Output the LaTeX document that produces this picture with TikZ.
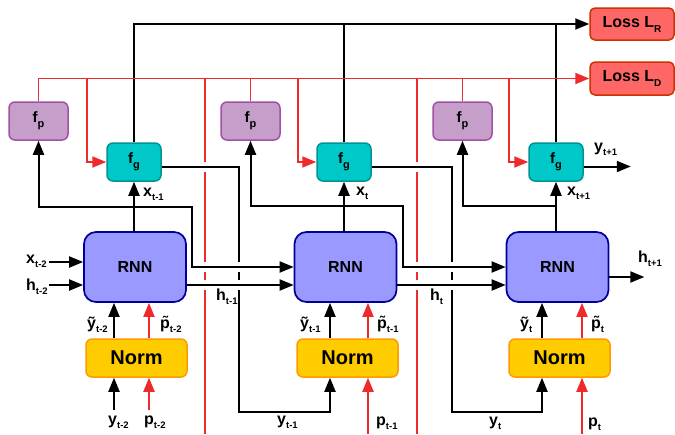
\documentclass[tikz,border=0pt]{standalone}
\usepackage{fontspec}
\setmainfont{Liberation Sans}
\usetikzlibrary{arrows.meta}

\definecolor{fpfill}{HTML}{C59FCA}
\definecolor{fpedge}{HTML}{A24FA6}
\definecolor{fgfill}{HTML}{00C8C8}
\definecolor{fgedge}{HTML}{009494}
\definecolor{rnnfill}{HTML}{9999FF}
\definecolor{rnnedge}{HTML}{000099}
\definecolor{normfill}{HTML}{FFCC00}
\definecolor{normedge}{HTML}{FF9900}
\definecolor{lossfill}{HTML}{FF6666}
\definecolor{lossedge}{HTML}{CC3300}
\definecolor{sigred}{HTML}{EE2A2A}

% lowered index used in the labels and boxes
\newcommand\idx[1]{\raisebox{-4.5pt}{\fontsize{9.5}{9.5}\selectfont #1}}
\newcommand\boxidx[1]{\raisebox{-5pt}{\fontsize{11}{11}\selectfont #1}}
% white break in a vertical line where a horizontal one passes over it
\newcommand\crossgap[2]{\fill[white] (#1-3,#2-5) rectangle (#1+3,#2+5);}

\begin{document}
\begin{tikzpicture}[x=1pt,y=-1pt,
  blk/.style={rounded corners=6pt, line width=1.5pt, inner sep=0pt,
              font=\bfseries\fontsize{15}{15}\selectfont},
  fpbox/.style={blk, fill=fpfill, draw=fpedge, minimum width=59pt, minimum height=38pt},
  fgbox/.style={blk, fill=fgfill, draw=fgedge, minimum width=54pt, minimum height=38pt},
  rnnbox/.style={blk, fill=rnnfill, draw=rnnedge, rounded corners=12pt, line width=1.7pt,
                 minimum width=102pt, minimum height=70pt, font=\bfseries\fontsize{16}{16}\selectfont},
  normbox/.style={blk, fill=normfill, draw=normedge, minimum width=101pt, minimum height=38pt,
                  font=\bfseries\fontsize{20}{20}\selectfont},
  lossbox/.style={blk, fill=lossfill, draw=lossedge, rounded corners=5pt,
                  minimum width=84pt, minimum height=32pt, font=\bfseries\fontsize{16}{16}\selectfont},
  lab/.style={anchor=base west, inner sep=0pt, font=\bfseries\fontsize{16}{16}\selectfont},
  wire/.style={line width=2pt, draw=black},
  rwire/.style={line width=1.9pt, draw=sigred},
  tip/.style={-{Triangle[length=14pt,width=11pt]}},
  ]
\useasboundingbox (0,0) rectangle (675,434);

% ---- blocks ----
\node[fpbox] (fp1) at (38.5,121) {f\boxidx{p}};
\node[fpbox] (fp2) at (250.5,121) {f\boxidx{p}};
\node[fpbox] (fp3) at (462.5,121) {f\boxidx{p}};
\node[fgbox] (fg1) at (134,162) {f\boxidx{g}};
\node[fgbox] (fg2) at (344,162) {f\boxidx{g}};
\node[fgbox] (fg3) at (556,162) {f\boxidx{g}};
\node[rnnbox] (rnn1) at (135,267) {RNN};
\node[rnnbox] (rnn2) at (345.5,267) {RNN};
\node[rnnbox] (rnn3) at (557.5,267) {RNN};
\node[normbox] (norm1) at (136.5,358) {Norm};
\node[normbox] (norm2) at (347.5,358) {Norm};
\node[normbox] (norm3) at (559.5,358) {Norm};
\node[lossbox] (lossR) at (632,24) {Loss L\raisebox{-5pt}{\fontsize{10}{10}\selectfont R}};
\node[lossbox, minimum height=33pt] (lossD) at (632,78.5) {Loss L\raisebox{-5pt}{\fontsize{10}{10}\selectfont D}};

% ---- reconstruction loss bus ----
\draw[wire,tip] (fg1.north) |- (lossR.west);
\draw[wire] (fg2.north) -- (fg2.north |- lossR.west);
\draw[wire] (fg3.north) -- (fg3.north |- lossR.west);

% ---- distribution loss bus (red) ----
\draw[rwire,tip] (fp1.north) |- (lossD.west);
\draw[rwire] (fp2.north) -- (fp2.north |- lossD.west);
\draw[rwire] (fp3.north) -- (fp3.north |- lossD.west);
\draw[rwire,tip] (87,0 |- lossD.west) |- (fg1.west);
\draw[rwire,tip] (298,0 |- lossD.west) |- (fg2.west);
\draw[rwire,tip] (509,0 |- lossD.west) |- (fg3.west);
\coordinate (sepA) at (205,434);
\coordinate (sepB) at (417,434);
\draw[rwire] (sepA |- lossD.west) -- (sepA);
\draw[rwire] (sepB |- lossD.west) -- (sepB);

% ---- predicted outputs y ----
\crossgap{205}{166.5}
\crossgap{417}{166.5}
\draw[wire,tip] ([yshift=-4.5pt]fg1.east) -| (239,412) -| (330,0 |- norm2.south);
\draw[wire,tip] ([yshift=-4.5pt]fg2.east) -| (452,412) -| (542,0 |- norm3.south);
\draw[wire,tip] ([yshift=-4.5pt]fg3.east) -- ++(47,0);

% ---- RNN outputs x, fed to f_g, f_p and the next RNN ----
\coordinate (j1) at (fg1.south |- 0,207);
\coordinate (j2) at (fg2.south |- 0,206);
\coordinate (j3) at (fg3.south |- 0,206);
\draw[wire,tip] (fg1.south |- rnn1.north) -- (fg1.south);
\draw[wire,tip] (fg2.south |- rnn2.north) -- (fg2.south);
\draw[wire,tip] (fg3.south |- rnn3.north) -- (fg3.south);
\draw[wire,tip] (j1) -| (fp1.south);
\draw[wire,tip] (j2) -| (fp2.south);
\draw[wire,tip] (j3) -| (fp3.south);

\foreach \xx in {205,239,417,452}{\crossgap{\xx}{267}\crossgap{\xx}{285}}
\draw[wire,tip] (j1) -| (192,0 |- rnn2.west) -- (rnn2.west);
\draw[wire,tip] (j2) -| (403,0 |- rnn3.west) -- (rnn3.west);

% ---- hidden state ----
\draw[wire,tip] ([yshift=-18pt]rnn1.east) -- ([yshift=-18pt]rnn2.west);
\draw[wire,tip] ([yshift=-18pt]rnn2.east) -- ([yshift=-18pt]rnn3.west);
\draw[wire,tip] ([yshift=-10pt]rnn3.east) -- ++(35,0);
\draw[wire,tip] ([xshift=-34pt,yshift=5pt]rnn1.west) -- ([yshift=5pt]rnn1.west);
\draw[wire,tip] ([xshift=-34pt,yshift=-18pt]rnn1.west) -- ([yshift=-18pt]rnn1.west);

% ---- normalisation ----
\draw[wire,tip] (114,410) -- (114,0 |- norm1.south);
\draw[rwire,tip] (149,410) -- (149,0 |- norm1.south);
\draw[rwire,tip] (368,434) -- (368,0 |- norm2.south);
\draw[rwire,tip] (582,434) -- (582,0 |- norm3.south);
\draw[wire,tip] (114,0 |- norm1.north) -- (114,0 |- rnn1.south);
\draw[rwire,tip] (149,0 |- norm1.north) -- (149,0 |- rnn1.south);
\draw[wire,tip] (330,0 |- norm2.north) -- (330,0 |- rnn2.south);
\draw[rwire,tip] (368,0 |- norm2.north) -- (368,0 |- rnn2.south);
\draw[wire,tip] (542,0 |- norm3.north) -- (542,0 |- rnn3.south);
\draw[rwire,tip] (582,0 |- norm3.north) -- (582,0 |- rnn3.south);

% ---- labels ----
\node[lab] (lx0) at (26,263) {x\idx{t-2}};
\node[lab] (lh0) at (26,290) {h\idx{t-2}};
\node[lab] (lx1) at (143,196) {x\idx{t-1}};
\node[lab] (lx2) at (356,195) {x\idx{t}};
\node[lab] (lx3) at (567,195) {x\idx{t+1}};
\node[lab] (ly3) at (594,151) {y\idx{t+1}};
\node[lab] (lh1) at (216,300) {h\idx{t-1}};
\node[lab] (lh2) at (430,300) {h\idx{t}};
\node[lab] (lh3) at (638,262) {h\idx{t+1}};
\node[lab] (lyt0) at (87,328) {\~{y}\idx{t-2}};
\node[lab] (lpt0) at (160,328) {\~{p}\idx{t-2}};
\node[lab] (lyt1) at (300,328) {\~{y}\idx{t-1}};
\node[lab] (lpt1) at (377,328) {\~{p}\idx{t-1}};
\node[lab] (lyt2) at (520,328) {\~{y}\idx{t}};
\node[lab] (lpt2) at (591,328) {\~{p}\idx{t}};
\node[lab] (ly0) at (108,424) {y\idx{t-2}};
\node[lab] (lp0) at (144,424) {p\idx{t-2}};
\node[lab] (ly1) at (277,424) {y\idx{t-1}};
\node[lab] (lp1) at (376,425) {p\idx{t-1}};
\node[lab] (ly2) at (489,425) {y\idx{t}};
\node[lab] (lp2) at (588,426) {p\idx{t}};
\end{tikzpicture}
\end{document}
